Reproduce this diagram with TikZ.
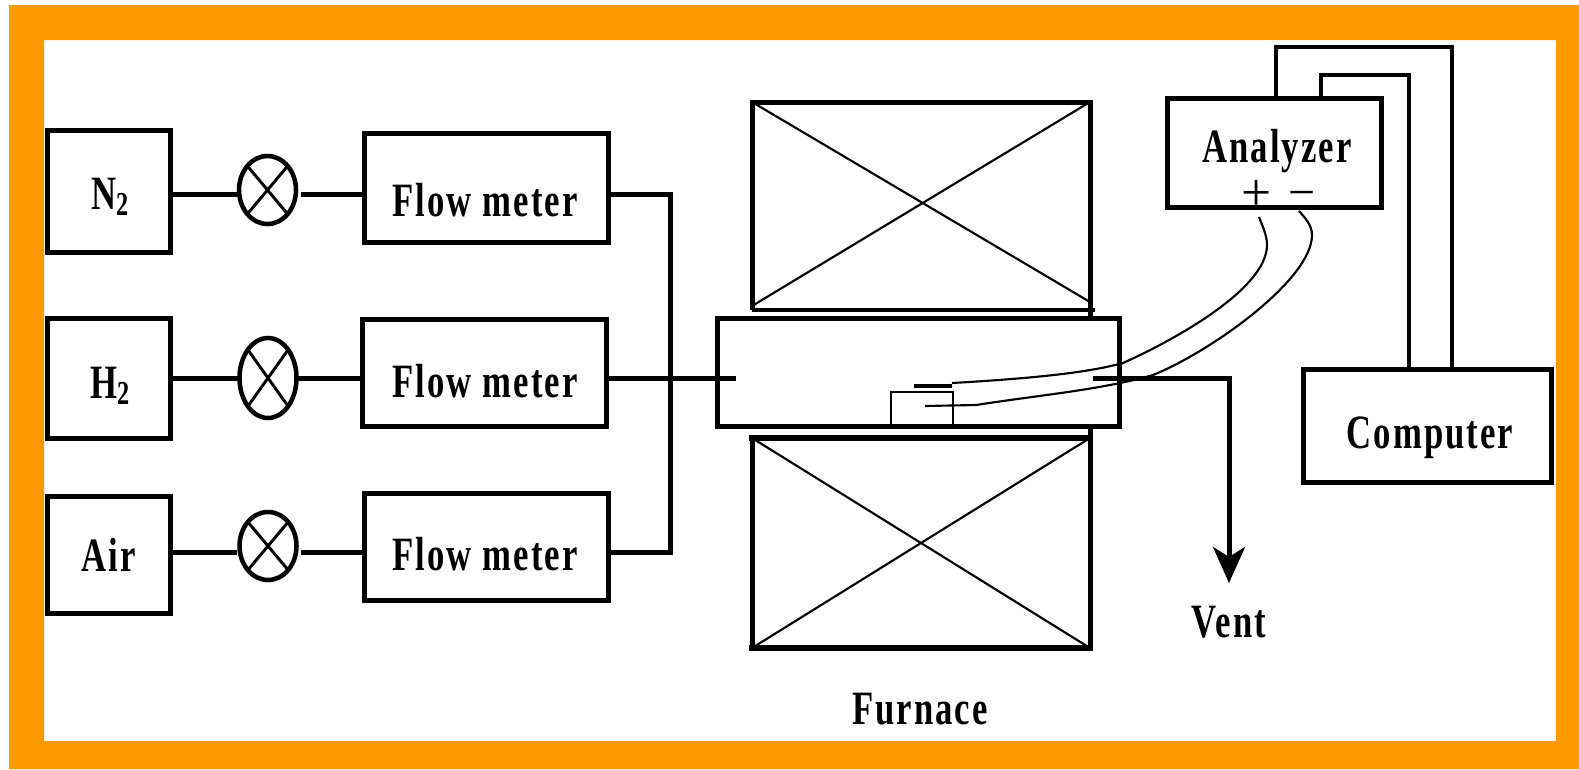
\documentclass[tikz,border=0pt]{standalone}
\usepackage{fontspec}
\setmainfont{Liberation Serif}
\newfontfamily\lblfont[LetterSpace=6]{Liberation Serif}
\usetikzlibrary{shapes.geometric,arrows.meta}
\definecolor{frameorange}{HTML}{FF9900}
\newcommand{\tallt}[1]{\scalebox{1}[1.38]{#1}}
\tikzset{
  boxa/.style={draw=black,line width=3.75pt,fill=white,inner sep=0pt,outer sep=0pt,anchor=north west},
  lbl/.style={font=\fontsize{26}{30}\selectfont\lblfont\bfseries,text=black,inner sep=0pt,anchor=base},
  pipe/.style={draw=black,line width=3.75pt},
  thinw/.style={draw=black,line width=1.6pt},
  wire/.style={draw=black,line width=2.6pt},
  valve/.style={draw=black,line width=3.4pt,ellipse,inner sep=0pt,outer sep=0pt,path picture={\draw[line width=2.2pt] (path picture bounding box.north west)--(path picture bounding box.south east) (path picture bounding box.north east)--(path picture bounding box.south west);}}
}
\newcommand{\bx}[5]{\node[boxa,minimum width=#3*.75pt,minimum height=#4*.75pt] (#5) at (#1,#2) {};}
\begin{document}
\begin{tikzpicture}[x=.75pt,y=-.75pt]
\useasboundingbox (0,0) rectangle (1579,769);
\fill[white] (0,0) rectangle (1579,769);
\fill[frameorange,even odd rule] (9,5) rectangle (1579,769) (44,40) rectangle (1556,741);
% sources
\bx{47.5}{130.5}{123}{122}{nn}
\node[lbl] (nnt) at (110,209) {\tallt{N\textsubscript{2}}};
\bx{47.5}{318}{123}{120}{hh}
\node[lbl] (hht) at (110,398) {\tallt{H\textsubscript{2}}};
\bx{47.5}{496}{123}{117}{air}
\node[lbl] (airt) at (109,571) {\tallt{Air}};
% valves
\node[valve,minimum width=57*.75pt,minimum height=68*.75pt] (v1) at (267.5,190) {};
\node[valve,minimum width=57*.75pt,minimum height=80*.75pt] (v2) at (268,378) {};
\node[valve,minimum width=57*.75pt,minimum height=68*.75pt] (v3) at (268,546) {};
% flow meters
\bx{364}{133}{244}{109}{f1}
\bx{362.5}{319}{244}{107}{f2}
\bx{364}{493}{244}{107}{f3}
\node[lbl] (f1t) at (485,216) {\tallt{Flow meter}};
\node[lbl] (f2t) at (485,397) {\tallt{Flow meter}};
\node[lbl] (f3t) at (485,570) {\tallt{Flow meter}};
% pipes
\draw[pipe] (nn.east|-0,194) -- (237,194);
\draw[pipe] (301,194) -- (f1.west|-0,194);
\draw[pipe] (hh.east|-0,378) -- (v2.west);
\draw[pipe] (v2.east) -- (f2.west|-0,378);
\draw[pipe] (air.east|-0,552) -- (237,552);
\draw[pipe] (301,552) -- (f3.west|-0,552);
\coordinate (mt) at (670,194);
\coordinate (mb) at (670,552);
\draw[pipe] (f1.east|-mt) -- (mt) -- (mb) -- (f3.east|-mb);
% furnace
\coordinate (ftl) at (752,102);
\coordinate (ftr) at (1090,102);
\coordinate (fbl0) at (752,310);
\coordinate (fbr0) at (1095,310);
\coordinate (fxl) at (752,306);
\coordinate (fxr) at (1090,302);
\draw[pipe] (fbl0) -- (ftl) -- (ftr) -- (1090,318);
\draw[wire] (fbl0) -- (fbr0);
\draw[thinw] (ftl) -- (fxr) (ftr) -- (fxl);
\coordinate (bbl) at (752,648);
\coordinate (bbr) at (1090,648);
\coordinate (btl) at (752,438);
\coordinate (btr) at (1090,438);
\draw[pipe] (btl) -- (bbl);
\draw[pipe] (1090,426) -- (bbr);
\draw[draw=black,line width=4.8pt,line cap=rect] (btl) -- (btr) (bbl) -- (bbr);
\draw[thinw] (btl) -- (bbr) (btr) -- (bbl);
\node[boxa,minimum width=402.5*.75pt,minimum height=108*.75pt] (tube) at (717,318) {};
\node[draw=black,line width=2pt,minimum width=62*.75pt,minimum height=34*.75pt,inner sep=0pt,outer sep=0pt,anchor=north west] (sb) at (891,392) {};
\coordinate (ti) at (736,378);
\draw[pipe] (f2.east|-ti) -- (ti);
% vent
\coordinate (vs) at (1093,378);
\coordinate (vc) at (1229,378);
\coordinate (ve) at (1229,583);
\draw[pipe,-{Stealth[length=27pt,width=24pt,inset=7.5pt]}] (vs) -- (vc) -- (ve);
\node[lbl] (vent) at (1229,637) {\tallt{Vent}};
\node[lbl] (furn) at (920,724) {\tallt{Furnace}};
% analyzer / computer
\node[boxa,minimum width=214*.75pt,minimum height=109*.75pt] (an) at (1167,98.5) {};
\node[lbl] (ant) at (1277,162) {\tallt{Analyzer}};
\node[boxa,minimum width=248*.75pt,minimum height=113*.75pt] (co) at (1303,369) {};
\node[lbl] (cot) at (1430,448) {\tallt{Computer}};
\draw[wire] (1276,98.5) -- (1276,47) -- (1452,47) -- (1452,369);
\draw[wire] (1321,98.5) -- (1321,75) -- (1409,75) -- (1409,369);
\node[inner sep=0pt,font=\fontsize{40}{40}\selectfont] (plus) at (1257,195) {+};
\node[inner sep=0pt,font=\fontsize{36}{36}\selectfont] (minus) at (1302,200) {−};
% thermocouple wires
\coordinate (w1a) at (914,386);
\coordinate (w1b) at (952,386);
\draw[wire] (w1a) -- (w1b);
\draw[thinw] (952,383) .. controls (1040,378) and (1090,372) .. (1123,363) .. controls (1170,342) and (1267,290) .. (1267,245) .. controls (1267,235) and (1262,225) .. (1259,217);
\draw[thinw] (925,406) -- (976,405) .. controls (1040,395) and (1100,390) .. (1153,375) .. controls (1210,352) and (1312,280) .. (1312,235) .. controls (1312,225) and (1305,218) .. (1299,211);
\end{tikzpicture}
\end{document}
